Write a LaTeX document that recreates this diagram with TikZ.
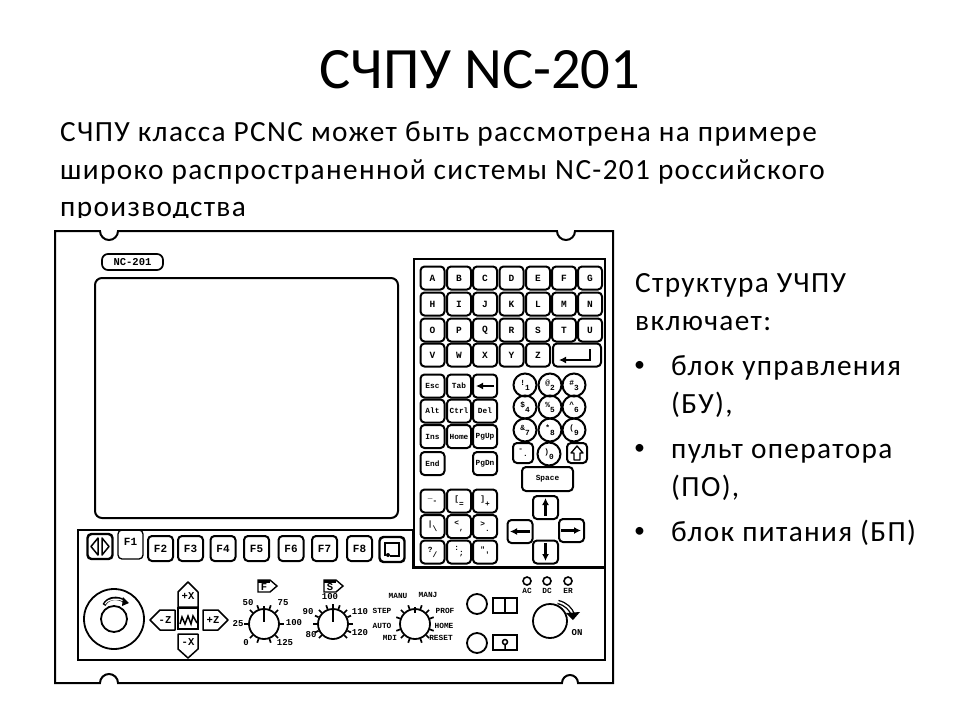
\documentclass[tikz,border=0pt]{standalone}
\usepackage{fontspec}
\setmainfont{Carlito}
\setmonofont{Liberation Mono}
\usetikzlibrary{arrows.meta,shapes.geometric}
\newcommand{\duo}[2]{\raisebox{2.5pt}{#1}\raisebox{-2.5pt}{#2}}
\newcommand{\dialknob}[4]{% name, x, y, angles
\node [knob, minimum size=30pt] (#1) at (#2,#3) { };
\foreach \a in {#4} \draw [line width=1.7pt] (#1.\a) -- ++(-\a:4);
}
\tikzset{
slidetext/.style={anchor=base west, inner sep=0pt, font=\fontsize{29.3}{30}\selectfont\addfontfeature{LetterSpace=4.6}},
pkey/.style={draw, line width=2pt, rounded corners=4pt, minimum width=24pt, minimum height=23pt, inner sep=0pt, font=\ttfamily\bfseries\fontsize{9.5}{10}\selectfont},
smallkey/.style={pkey, font=\ttfamily\bfseries\fontsize{7.8}{8}\selectfont},
fkey/.style={pkey, minimum width=25pt, minimum height=25pt, font=\ttfamily\bfseries\fontsize{11}{11}\selectfont},
numkey/.style={smallkey, circle, minimum width=23pt, minimum height=23pt},
knob/.style={draw, circle, line width=1.8pt, inner sep=0pt},
poslab/.style={inner sep=0pt, font=\ttfamily\bfseries\fontsize{7.8}{8}\selectfont},
dialmark/.style={inner sep=0pt, font=\ttfamily\bfseries\fontsize{9}{9}\selectfont},
jogkey/.style={draw, line width=1.5pt, line join=round},
joglab/.style={inner sep=0pt, font=\ttfamily\bfseries\fontsize{10.5}{11}\selectfont},
panelline/.style={line width=2pt},
keyarrow/.style={line width=2.2pt, -{Latex[length=7pt,width=7pt]}}
}
\begin{document}
\begin{tikzpicture}[x=1pt,y=-1pt]
\useasboundingbox (0,0) rectangle (960,720);
\fill [white] (0,0) rectangle (960,720);
\node [anchor=base, inner sep=0pt, font=\fontsize{58.6}{60}\selectfont] (title) at (480,88) {СЧПУ NC-201};
\node [slidetext] (line1) at (60,141) {СЧПУ класса PCNC может быть рассмотрена на примере};
\node [slidetext] (line2) at (60,179) {широко распространенной системы NC-201 российского};
\node [slidetext] (line3) at (60,216) {производства};
\fill [white] (40,218) rectangle (630,232);
\node [slidetext] (right1) at (635,292) {Структура УЧПУ};
\node [slidetext] (right2) at (635,330) {включает:};
\foreach \ty/\tn/\tx in {375/a/блок управления, 413/b/{(БУ),}, 458/c/пульт оператора, 496/d/{(ПО),}, 541/e/блок питания (БП)}
  \node [slidetext] (item\tn) at (671,\ty) {\tx};
\foreach \ty/\tn in {375/a, 458/c, 541/e}
  \node [slidetext, font=\fontsize{22}{22}\selectfont] (dot\tn) at (634,\ty-4) {•};
% case
\draw [panelline] (55,231) -- (100,231) arc (180:0:9) -- (557,231) arc (180:0:9) -- (613,231) -- (613,683)
  -- (578,683) arc (360:180:8) -- (118,683) arc (360:180:9) -- (55,683) -- cycle;
\node [draw, line width=1.7pt, rounded corners=6pt, minimum width=61pt, minimum height=16pt, inner sep=0pt, font=\ttfamily\bfseries\fontsize{10.5}{11}\selectfont] (model) at (132.5,262) {NC-201};
\node [draw, line width=2pt, rounded corners=7pt, minimum width=303pt, minimum height=240pt] (screen) at (246.5,398) { };
% keyboard
\draw [panelline] (414,259) rectangle (605,567);
\foreach \x/\lab [count=\i] in {432.5/A,459/B,485/C,511.5/D,538/E,564/F,590/G}
  \node [pkey] (ka\i) at (\x,278) {\lab};
\foreach \x/\lab [count=\i] in {432.5/H,459/I,485/J,511.5/K,538/L,564/M,590/N}
  \node [pkey] (kb\i) at (\x,304) {\lab};
\foreach \x/\lab [count=\i] in {432.5/O,459/P,485/Q,511.5/R,538/S,564/T,590/U}
  \node [pkey] (kc\i) at (\x,330) {\lab};
\foreach \x/\lab [count=\i] in {432.5/V,459/W,485/X,511.5/Y,538/Z}
  \node [pkey] (kd\i) at (\x,355) {\lab};
\node [pkey, minimum width=48pt] (enter) at (577,355) { };
\draw [line width=1.8pt, -{Latex[length=7pt,width=7pt]}] (590,349) -- (590,360) -- (559,360);
\foreach \x/\y/\lab [count=\i] in {432.5/386/Esc,459/386/Tab,485/386/,432.5/411/Alt,459/411/Ctrl,485/411/Del,432.5/436.5/Ins,459/436.5/Home,485/436.5/PgUp,432.5/463.5/End,485/463.5/PgDn}
  \node [smallkey] (ke\i) at (\x,\y) {\lab};
\draw [line width=1.8pt, -{Latex[length=7pt,width=7pt]}] (494,386) -- (476,386);
\foreach \px/\py/\sa/\sb [count=\i] in {525/385/!/1,550/385/@/2,574/385/\#/3,525/407/\$/4,550/407/\%/5,574/407/\^{}/6,525/430/\&/7,550/430/*/8,574/430/(/9,549/454/)/0}
  \node [numkey] (num\i) at (\px,\py) {\duo{\sa}{\sb}};
\node [smallkey, minimum width=20pt, minimum height=20pt] (minus) at (523,453) {\duo{-}{.}};
\node [pkey, minimum width=20pt, minimum height=20pt] (shift) at (577,453) { };
\draw [line width=1.3pt, line join=round] (577,446) -- (583,453) -- (580,453) -- (580,460) -- (574,460) -- (574,453) -- (571,453) -- cycle;
\node [smallkey, minimum width=51pt, minimum height=24pt] (space) at (547.5,479) {Space};
\foreach \x/\y/\sa/\sb [count=\i] in {432.5/501/\_/-,459/501/[/=,485/501/]/+,432.5/526.5/|/\textbackslash,459/526.5/</{,},485/526.5/>/.,432.5/552/?/{/},459/552/:/;,485/552/"/'}
  \node [smallkey] (kf\i) at (\x,\y) {\duo{\sa}{\sb}};
\node [pkey, minimum width=25pt] (up) at (545.5,507.5) { };
\node [pkey, minimum width=25pt] (down) at (545.5,552) { };
\node [pkey, minimum width=25pt] (left) at (520,531.5) { };
\node [pkey, minimum width=25pt] (right) at (571.5,530.5) { };
\draw [keyarrow] (545.5,516) -- (545.5,498);
\draw [keyarrow] (545.5,543) -- (545.5,561);
\draw [keyarrow] (530,531.5) -- (510,531.5);
\draw [keyarrow] (561,530.5) -- (581,530.5);
% function keys and controls
\draw [panelline] (78,530) -- (413,530) -- (413,568) -- (605,568) -- (605,660) -- (78,660) -- cycle;
\node [fkey, line width=2.4pt] (toggle) at (100,546.5) { };
\draw [line width=1.5pt, line join=round] (98,538) -- (91,546.5) -- (98,555) -- cycle (102,538) -- (109,546.5) -- (102,555) -- cycle;
\node [fkey, minimum height=29pt, line width=1.3pt] (f1) at (130.5,544.5) {\raisebox{5pt}{F1}};
\foreach \x/\lab [count=\i from 2] in {160.5/F2,190.5/F3,223/F4,256.5/F5,291/F6,324.5/F7,359.5/F8}
  \node [fkey] (f\i) at (\x,548.5) {\lab};
\node [fkey, line width=2.4pt] (last) at (392,549.5) { };
\draw [line width=1.6pt] (385,556) -- (385,543) -- (399,543) -- (399,556) -- (390,556);
\fill (388,555) circle (2);
% handwheel
\node [knob, minimum size=60pt] (wheel) at (114,619) { };
\node [knob, minimum size=26pt] (hub) at (114,619) { };
\draw [line width=3.4pt] (104,605) .. controls (108,597) and (118,597) .. (124,601);
\draw [line width=1.2pt, white] (105,604) .. controls (109,598) and (118,598) .. (124,601);
\fill (123,597) -- (129,603) -- (122,606) -- cycle;
% jog pad
\node [draw, line width=2pt, minimum width=20pt, minimum height=21pt, inner sep=0pt] (jog) at (188,618.5) { };
\draw [line width=1.5pt] (180,624) -- (182,617) -- (185,624) -- (188,616) -- (191,624) -- (193,616) -- (197,623);
\draw [jogkey] (178,607) -- (178,592) -- (188,582) -- (198,592) -- (198,607) -- cycle;
\draw [jogkey] (178,634) -- (178,649) -- (188,658) -- (198,649) -- (198,634) -- cycle;
\draw [jogkey] (175,610) -- (160,610) -- (150,620) -- (160,630) -- (175,630) -- cycle;
\draw [jogkey] (203,610) -- (218,610) -- (228,620) -- (218,630) -- (203,630) -- cycle;
\node [joglab] (px) at (188,596) {+X};
\node [joglab] (mx) at (188,642) {-X};
\node [joglab] (mz) at (165,620) {-Z};
\node [joglab] (pz) at (213,620) {+Z};
% dials
\dialknob{feed}{264}{624}{0,45,70,110,135,180,225,250,290,315}
\dialknob{spin}{333}{624}{0,25,45,70,90,110,135,155,180,205,225,315,335}
\dialknob{mode}{415}{624}{20,45,70,110,135,160,200,225,250,290,315,340}
\draw [line width=1.2pt] (264,606) -- (264,622);
\draw [line width=1.2pt] (333,606) -- (333,622);
\draw [line width=2.8pt] (415,607) -- (415,613);
\foreach \x/\y/\lab [count=\i] in {248/603/50,283/603/75,238/624/25,294/623/100,246/643/0,285/643/125,330/597/100,308/612/90,360/612/110,311/635/80,360/633/120}
  \node [dialmark] (mark\i) at (\x,\y) {\lab};
\foreach \x/\y/\lab [count=\i] in {398/596/MANU,428/595/MANJ,382/611/STEP,382/626/AUTO,390/638/MDI,445/611/PROF,444/626/HOME,441/638/RESET}
  \node [poslab] (pos\i) at (\x,\y) {\lab};
\draw [line width=1.4pt] (258,580) -- (270,580) -- (277,586) -- (270,592) -- (258,592) -- cycle;
\fill (258,580) rectangle (270,583);
\node [joglab] (feedicon) at (264,587) {F};
\draw [line width=1.4pt] (324,580) -- (336,580) -- (343,586) -- (336,592) -- (324,592) -- cycle;
\fill (324,580) rectangle (336,583);
\node [joglab] (spinicon) at (330,587) {S};
% right side of the lower panel
\node [knob, minimum size=20pt] (btna) at (477,604) { };
\node [knob, minimum size=20pt] (btnb) at (477,643) { };
\node [draw, line width=1.8pt, minimum width=24pt, minimum height=15pt, inner sep=0pt] (locka) at (505,605.5) { };
\node [draw, line width=1.8pt, minimum width=24pt, minimum height=15pt, inner sep=0pt] (lockb) at (505,642.5) { };
\draw [line width=1.8pt] (locka.north) -- (locka.south);
\draw [line width=1.5pt] (505,642) circle (2.5) (505,644.5) -- (505,650);
\foreach \x/\lab [count=\i] in {527/AC,547/DC,568/ER}{
  \node [knob, line width=1.6pt, minimum size=8pt] (led\i) at (\x,581) { };
  \node [poslab] (ledlab\i) at (\x,591) {\lab};
}
\node [knob, minimum size=34pt] (on) at (550,621) { };
\draw [line width=4.5pt] (558,602) .. controls (566,604) and (571,609) .. (573,615);
\draw [line width=1.8pt, white] (558,602) .. controls (566,604) and (571,609) .. (573,615);
\fill (566,613) -- (580,612) -- (573,620) -- cycle;
\node [dialmark] (onlab) at (577,633) {ON};
\end{tikzpicture}
\end{document}
